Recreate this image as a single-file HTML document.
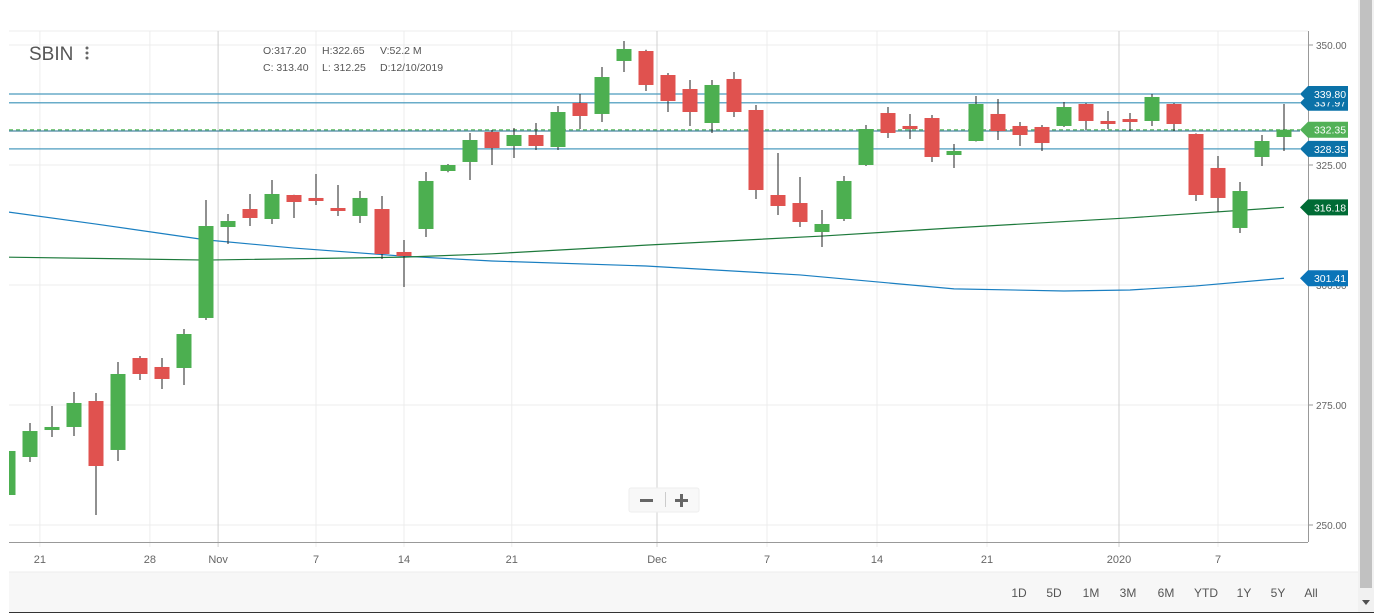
<!DOCTYPE html>
<html><head><meta charset="utf-8">
<style>
html,body{margin:0;padding:0;background:#fff;width:1374px;height:614px;overflow:hidden;font-family:"Liberation Sans",sans-serif;}
svg{position:absolute;left:0;top:0;}
</style></head>
<body>
<svg id="chart" width="1374" height="614" xmlns="http://www.w3.org/2000/svg"></svg>
<script>
const opens  = [256.25,264.17,269.79,270.42,275.83,265.63,284.79,282.92,282.71,293.13,312.08,315.83,313.75,318.75,318.13,316.04,314.38,315.83,306.88,311.67,323.75,325.63,331.88,328.96,331.25,328.75,337.92,335.63,346.67,348.75,343.75,340.83,333.75,342.92,336.46,318.75,317.08,311.04,313.75,325.0,335.83,333.13,334.79,327.08,330.0,335.63,333.13,332.92,333.13,337.71,334.17,334.58,334.17,337.71,331.46,324.38,311.88,326.67,330.83];
const closes = [265.42,269.58,270.42,275.42,262.29,281.46,281.46,280.42,289.79,312.29,313.33,313.96,318.96,317.29,317.5,315.42,318.13,306.46,306.04,321.67,325.0,330.21,328.54,331.25,328.96,336.04,335.21,343.33,349.17,341.67,338.33,336.04,341.67,336.04,319.79,316.46,313.13,312.71,321.67,332.5,331.67,332.5,326.67,327.92,337.71,332.08,331.25,329.58,337.08,334.17,333.54,333.96,339.17,333.54,318.75,318.13,319.58,330.0,332.35];
const highs  = [266.0,271.25,274.79,277.71,277.5,283.96,285.2,284.79,290.83,317.71,314.79,318.96,321.88,318.8,323.13,320.83,319.58,318.54,309.38,323.54,325.2,331.67,332.29,332.71,333.75,337.29,339.79,345.42,350.83,349.0,344.17,342.71,342.71,344.38,337.5,327.5,322.5,315.63,322.71,333.33,337.08,335.63,335.42,329.38,339.38,338.75,333.96,333.33,338.13,337.9,336.25,335.83,339.79,337.9,331.6,326.88,321.46,331.25,337.71];
const lows   = [255.0,263.13,268.33,268.54,252.08,263.33,280.21,278.33,279.17,292.71,308.54,312.29,312.71,313.96,316.67,314.38,312.92,305.42,299.58,310.0,323.5,321.88,325.0,326.46,328.13,328.13,332.5,333.96,344.38,340.42,336.04,333.13,331.67,335.0,317.92,314.58,312.08,307.92,313.33,324.79,330.63,330.42,325.63,324.38,329.9,330.21,328.96,327.92,332.92,332.29,332.5,332.08,333.13,332.08,317.5,315.21,310.83,324.79,327.92];
const maBlueIdx = [0,4,9,13,18,22,29,36,43,48,51,54,58];
const maBlueVal = [315.21,312.7,309.4,307.7,306.0,305.0,303.96,302.1,299.2,298.75,298.96,299.8,301.41];
const maGreenIdx = [0,9,18,22,29,37,43,51,58];
const maGreenVal = [305.8,305.2,305.8,306.5,308.3,310.2,311.9,314.0,316.18];
const levelVals = [339.80,337.97,328.35];
const lastPrice = 332.35;
const yTicks = [350,325,300,275,250];
const xTickIdx = [1.45,6.45,9.55,14,18,22.9,29.5,34.5,39.5,44.5,50.5,55];
const xTickLabels = ["21","28","Nov","7","14","21","Dec","7","14","21","2020","7"];
const xTickMajor = [false,false,true,false,false,false,true,false,false,false,true,false];
const ranges = ["1D","5D","1M","3M","6M","YTD","1Y","5Y","All"];

const NS="http://www.w3.org/2000/svg";
const svg=document.getElementById('chart');
const y=p=>45+(350-p)*4.8;
const x=i=>8+22*i;
function mk(tag,attrs,parent){const e=document.createElementNS(NS,tag);for(const k in attrs)e.setAttribute(k,attrs[k]);(parent||svg).appendChild(e);return e;}

// plot clip
const defs=mk('defs',{});
const cp=mk('clipPath',{id:'plot'},defs);
mk('rect',{x:9,y:31,width:1299,height:511},cp);

// horizontal grid
const gridG=mk('g',{});


mk('line',{x1:9,x2:1308,y1:31,y2:31,stroke:'#eeeeee'},gridG);
yTicks.forEach(t=>{const l=mk('line',{x1:9,x2:1308,y1:y(t),y2:y(t),stroke:'#ececec'},gridG);

});
xTickIdx.forEach((t,k)=>{const l=mk('line',{x1:x(t),x2:x(t),y1:31,y2:547,stroke:xTickMajor[k]?'#d0d0d0':'#ececec'},gridG);

});

// axes
mk('line',{x1:9,x2:1308,y1:542.5,y2:542.5,stroke:'#999'});
mk('line',{x1:1308.5,x2:1308.5,y1:31,y2:542,stroke:'#999'});
yTicks.forEach(t=>{mk('line',{x1:1308,x2:1313,y1:y(t),y2:y(t),stroke:'#999'});
const tx=mk('text',{x:1316,y:y(t)+4,'font-size':10,fill:'#666'});tx.textContent=t.toFixed(2);

});
xTickIdx.forEach((t,k)=>{const tx=mk('text',{x:x(t),y:563,'font-size':11,fill:'#666','text-anchor':'middle'});tx.textContent=xTickLabels[k];

});

// moving averages
const plotG=mk('g',{'clip-path':'url(#plot)'});
function maPath(idx,val,color,name){
 const d=idx.map((ii,k)=>(k?'L':'M')+x(ii)+','+y(val[k])).join(' ');
 const p=mk('path',{d:d,fill:'none',stroke:color,'stroke-width':1.2},plotG);
 
 }
maPath(maBlueIdx,maBlueVal,'#1a7fc1','moving-average-blue');
maPath(maGreenIdx,maGreenVal,'#1e7a3c','moving-average-green');

// level lines
levelVals.forEach(v=>{const l=mk('line',{x1:9,x2:1300,y1:y(v),y2:y(v),stroke:'#4f9ec0','stroke-width':1.5,opacity:0.85},plotG);

});
mk('line',{x1:9,x2:1300,y1:y(lastPrice),y2:y(lastPrice),stroke:'#6cc070','stroke-width':1.2,'stroke-dasharray':'4,3'},plotG);
mk('line',{x1:9,x2:1300,y1:y(lastPrice)+1.3,y2:y(lastPrice)+1.3,stroke:'#1f6b8e','stroke-width':1},plotG);

// candles
opens.forEach((o,i)=>{const c=closes[i];const up=c>=o;
 const g=mk('g',{},plotG);
 
 
 mk('line',{x1:x(i),x2:x(i),y1:y(highs[i]),y2:y(lows[i]),stroke:'#222','stroke-width':1},g);
 const top=y(Math.max(o,c)),bot=y(Math.min(o,c));
 mk('rect',{x:x(i)-7.5,y:top,width:15,height:Math.max(2.5,bot-top),fill:up?'#4caf50':'#e0524f'},g);});

// badges
function badge(v,color,name){const yy=y(v);const g=mk('g',{});
 
 
 mk('path',{d:`M1300,${yy} L1308,${yy-8} L1348,${yy-8} L1348,${yy+8} L1308,${yy+8} Z`,fill:color},g);
 const t=mk('text',{x:1330,y:yy+4,'font-size':10.5,fill:'#fff','text-anchor':'middle'},g);t.textContent=v.toFixed(2);}
badge(maBlueVal[maBlueVal.length-1],'#0a74b8','badge-ma-blue');
badge(maGreenVal[maGreenVal.length-1],'#006b35','badge-ma-green');
badge(levelVals[2],'#0b72a8','badge-level-3');
badge(lastPrice,'#52b157','badge-last-price');
badge(levelVals[1],'#0b72a8','badge-level-2');
badge(levelVals[0],'#0b72a8','badge-level-1');

// title and OHLC
let t=mk('text',{x:29,y:60,'font-size':19,fill:'#555'});t.textContent='SBIN';


[48,53,58].forEach(cy=>mk('circle',{cx:87,cy:cy,r:1.5,fill:'#666'}));
const info=[['O:317.20',263,54],['H:322.65',322,54],['V:52.2 M',380,54],['C: 313.40',263,71],['L: 312.25',322,71],['D:12/10/2019',380,71]];
info.forEach(a=>{const e=mk('text',{x:a[1],y:a[2],'font-size':10.5,fill:'#555'});e.textContent=a[0];

});

// zoom buttons
const zb=mk('g',{});


mk('rect',{x:629,y:488,width:70,height:24,rx:2,fill:'#f8f8f8',stroke:'#eee'},zb);
mk('rect',{x:640,y:499,width:13,height:3,fill:'#666'},zb);
mk('line',{x1:665.5,x2:665.5,y1:492,y2:507,stroke:'#ccc'},zb);
mk('rect',{x:675,y:499,width:13,height:3,fill:'#666'},zb);
mk('rect',{x:680,y:494,width:3,height:13,fill:'#666'},zb);

// bottom bar
const bb=mk('rect',{x:9,y:572,width:1349,height:40,fill:'#f7f7f7'});


mk('line',{x1:9,x2:1358,y1:572,y2:572,stroke:'#ececec'});
mk('line',{x1:9,x2:1374,y1:612.5,y2:612.5,stroke:'#333'});
const rx=[1019,1054,1091,1128,1166,1206,1244,1278,1311];
ranges.forEach((r,k)=>{const e=mk('text',{x:rx[k],y:597,'font-size':12,fill:'#555','text-anchor':'middle'});e.textContent=r;

});

// scrollbar
mk('rect',{x:1358,y:0,width:16,height:612,fill:'#f1f1f1'});
const sb=mk('rect',{x:1360,y:0,width:12,height:588,fill:'#c1c1c1'});


mk('path',{d:'M1362,600 L1370,600 L1366,605 Z',fill:'#505050'});
</script>
</body></html>
